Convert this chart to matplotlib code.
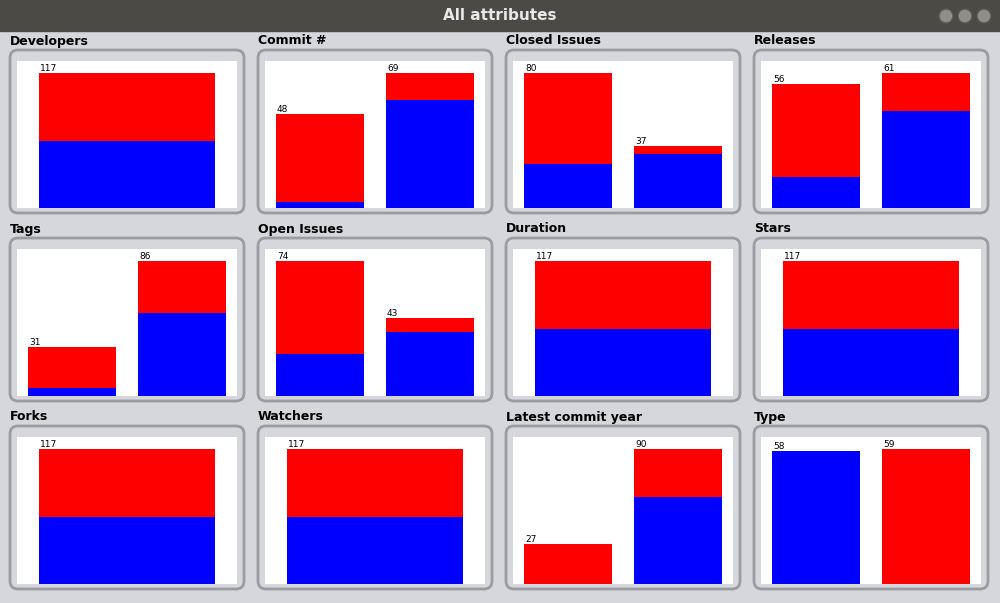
import matplotlib.pyplot as plt
from matplotlib.patches import FancyBboxPatch, Rectangle

titles = ["Developers", "Commit #", "Closed Issues", "Releases",
          "Tags", "Open Issues", "Duration", "Stars",
          "Forks", "Watchers", "Latest commit year", "Type"]
# per panel: list of (blue, red) counts per bar
blue = [[58], [3, 55], [26, 32], [14, 44],
        [5, 53], [23, 35], [58], [58],
        [58], [58], [0, 58], [58, 0]]
red = [[59], [45, 14], [54, 5], [42, 17],
       [26, 33], [51, 8], [59], [59],
       [59], [59], [27, 32], [0, 59]]

W, H = 1000, 603
fig = plt.figure(figsize=(W / 100, H / 100), dpi=100)
fig.patch.set_facecolor("#d6d7dc")
bg = fig.add_axes([0, 0, 1, 1])
bg.set_xlim(0, W)
bg.set_ylim(H, 0)
bg.axis("off")

# title bar
bg.add_patch(Rectangle((0, 0), W, 31, color="#4b4a45"))
bg.text(W / 2, 16, "All attributes", color="#e8e8e8", ha="center", va="center",
        fontsize=11, fontweight="bold")
for i, cx in enumerate([946, 965, 984]):
    bg.add_patch(plt.Circle((cx, 16), 7, color="#8e8e8a", ec="#5a5a55"))

col_x = [8, 256, 504, 752]
row_y = [48, 236, 424]
for i, t in enumerate(titles):
    r, c = divmod(i, 4)
    x0, y0 = col_x[c], row_y[r]
    bg.text(x0 + 2, y0 - 7, t, fontsize=9, fontweight="bold", va="center")
    bg.add_patch(FancyBboxPatch((x0 + 2, y0 + 2), 234, 163,
                                boxstyle="round,pad=0,rounding_size=8",
                                fc="#d6d7dc", ec="#9b9ca2", lw=2))
    # white plot area
    ax = fig.add_axes([(x0 + 9) / W, 1 - (y0 + 160) / H, 220 / W, 147 / H])
    ax.set_facecolor("white")
    for s in ax.spines.values():
        s.set_visible(False)
    ax.set_xticks([])
    ax.set_yticks([])
    b, rd = blue[i], red[i]
    tot = [p + q for p, q in zip(b, rd)]
    if len(tot) == 1:
        xs, w = [22], 176
    else:
        xs, w = [11, 121], 88
    ax.bar(xs, b, width=w, align="edge", color="#0000ff")
    ax.bar(xs, rd, bottom=b, width=w, align="edge", color="#ff0000")
    for xv, tv in zip(xs, tot):
        ax.text(xv + 1, tv, str(tv), fontsize=6.5, va="bottom", ha="left")
    ax.set_xlim(0, 220)
    ax.set_ylim(0, max(tot) * 147 / 135)

fig.savefig("out.png", dpi=100, facecolor=fig.get_facecolor())
